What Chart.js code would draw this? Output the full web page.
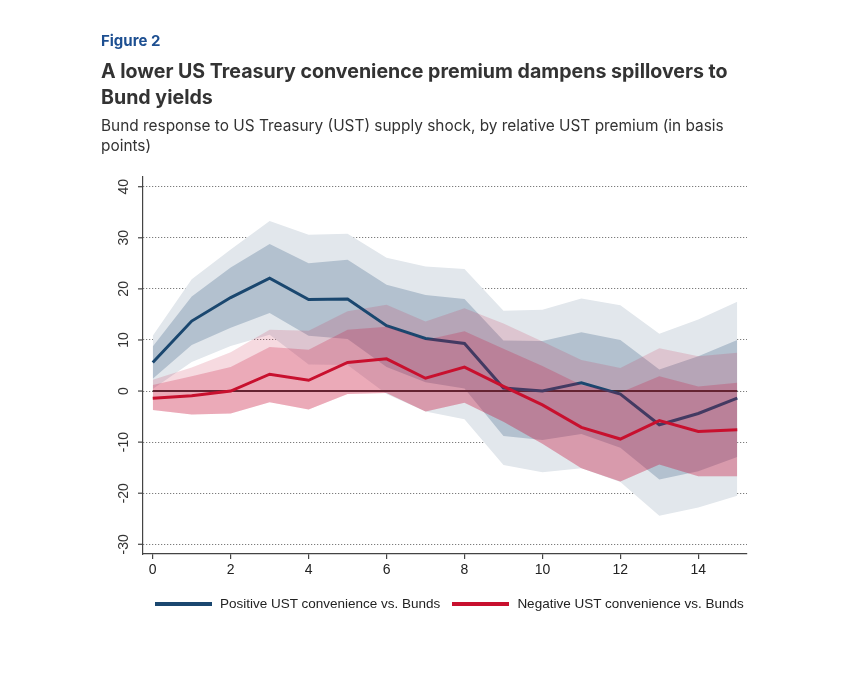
<!DOCTYPE html>
<html>
<head>
<meta charset="utf-8">
<script src="https://cdn.jsdelivr.net/npm/chart.js@4.4.1/dist/chart.umd.min.js"></script>
<style>
  html, body { margin: 0; padding: 0; background: #fff; }
  #wrap { position: relative; width: 859px; height: 691px; overflow: hidden; }
  #chartBox { position: absolute; left: 0; top: 0; width: 859px; height: 691px; }
  .fig { position: absolute; left: 101px; top: 31px; font: 700 15px/20px Inter, sans-serif; color: #1d4f91; }
  .title { position: absolute; left: 101px; top: 58px; font: 700 19.6px/26px Inter, sans-serif; color: #333; white-space: nowrap; }
  .sub { position: absolute; left: 101px; top: 116px; font: 400 15.4px/20px Inter, sans-serif; color: #333; white-space: nowrap; }
  .legend { position: absolute; left: 155px; top: 596px; display: flex; align-items: center;
            font: 13.5px "Liberation Sans", Arial, sans-serif; color: #222; white-space: nowrap; }
  .legend .sw { width: 57px; height: 4px; margin-right: 8px; }
  .legend .item { display: flex; align-items: center; margin-right: 12px; }
</style>
</head>
<body>
<div id="wrap">
  <div id="chartBox"><canvas id="chart"></canvas></div>
  <div class="fig">Figure 2</div>
  <div class="title">A lower US Treasury convenience premium dampens spillovers to<br>Bund yields</div>
  <div class="sub">Bund response to US Treasury (UST) supply shock, by relative UST premium (in basis<br>points)</div>
  <div class="legend">
    <div class="item"><div class="sw" style="background:#1a476f"></div>Positive UST convenience vs. Bunds</div>
    <div class="item"><div class="sw" style="background:#c8102e"></div>Negative UST convenience vs. Bunds</div>
  </div>
</div>
<script>
const horizons = [0, 1, 2, 3, 4, 5, 6, 7, 8, 9, 10, 11, 12, 13, 14, 15]
const yTicks = [-30, -20, -10, 0, 10, 20, 30, 40]

// positive UST convenience (blue)
const posLine    = [5.6, 13.7, 18.3, 22.1, 17.9, 18.0, 12.8, 10.3, 9.3, 0.6, 0.0, 1.6, -0.6, -6.6, -4.4, -1.4]
const posInnerHi = [8.7, 18.5, 24.2, 28.8, 25.0, 25.7, 20.8, 18.8, 18.0, 9.9, 9.8, 11.5, 10.0, 4.2, 6.8, 10.0]
const posInnerLo = [2.4, 9.0, 12.4, 15.3, 10.8, 10.2, 4.7, 1.7, 0.5, -8.8, -9.6, -8.4, -11.1, -17.3, -15.7, -12.9]
const posOuterHi = [10.8, 21.9, 27.7, 33.3, 30.6, 30.8, 26.1, 24.4, 23.9, 15.7, 15.9, 18.1, 16.8, 11.2, 14.0, 17.5]
const posOuterLo = [0.4, 5.7, 8.8, 11.0, 5.2, 5.1, -0.6, -4.0, -5.5, -14.5, -15.9, -15.1, -17.8, -24.4, -22.8, -20.5]

// negative UST convenience (red)
const negLine    = [-1.4, -0.9, 0.0, 3.3, 2.1, 5.6, 6.3, 2.5, 4.7, 0.9, -2.7, -7.1, -9.4, -5.8, -7.9, -7.6]
const negInnerHi = [1.2, 2.9, 4.7, 8.6, 8.1, 12.0, 12.6, 10.0, 11.7, 8.3, 4.9, 1.2, -0.3, 2.9, 0.9, 1.6]
const negOuterHi = [2.2, 4.6, 7.6, 12.0, 11.8, 15.6, 16.9, 13.6, 16.2, 13.2, 9.7, 6.1, 4.5, 8.4, 6.8, 7.5]
const negLower   = [-3.7, -4.6, -4.4, -2.2, -3.6, -0.6, -0.4, -4.0, -2.3, -6.0, -10.3, -15.1, -17.7, -14.4, -16.7, -16.7]

const zeroRef = [0, 0, 0, 0, 0, 0, 0, 0, 0, 0, 0, 0, 0, 0, 0, 0]

function pts(arr) {
  return arr.map((v, i) => ({ x: horizons[i], y: v }))
}

function edge(arr, order) {
  return { data: pts(arr), borderWidth: 0, pointRadius: 0, fill: false, order: order }
}

function band(arr, target, color, order) {
  return { data: pts(arr), borderWidth: 0, pointRadius: 0, fill: { target: target }, backgroundColor: color, order: order }
}

function line(arr, color, width, order) {
  return { data: pts(arr), borderColor: color, borderWidth: width, pointRadius: 0, fill: false, tension: 0, order: order }
}

// y tick labels are rotated in the original, so they are drawn here
const yAxisLabels = {
  id: 'yAxisLabels',
  afterDraw(chart) {
    const { ctx, chartArea } = chart
    const y = chart.scales.y
    ctx.save()
    ctx.strokeStyle = '#444'
    ctx.lineWidth = 1.2
    ctx.fillStyle = '#333'
    ctx.font = '14px "Liberation Sans", Arial, sans-serif'
    ctx.textAlign = 'center'
    ctx.textBaseline = 'middle'
    yTicks.forEach(v => {
      const py = y.getPixelForValue(v)
      ctx.beginPath()
      ctx.moveTo(chartArea.left - 5, py)
      ctx.lineTo(chartArea.left, py)
      ctx.stroke()
      ctx.save()
      ctx.translate(124, py)
      ctx.rotate(-Math.PI / 2)
      ctx.fillText(String(v), 0, 0)
      ctx.restore()
    })
    ctx.restore()
  }
}

new Chart(document.getElementById('chart'), {
  type: 'line',
  data: {
    datasets: [
      edge(posOuterLo, 100),                              // 0
      band(posOuterHi, 0, '#e2e7ec', 90),                 // 1
      edge(posInnerLo, 100),                              // 2
      band(posInnerHi, 2, '#b3c1cf', 80),                 // 3
      line(zeroRef, '#2e2e2e', 2, 70),                    // 4
      edge(negLower, 100),                                // 5
      band(negOuterHi, 5, 'rgba(200,16,60,0.155)', 60),   // 6
      line(posLine, '#1a476f', 3, 50),                    // 7
      band(negInnerHi, 5, 'rgba(200,16,60,0.24)', 40),    // 8
      line(negLine, '#c8102e', 3, 30)                     // 9
    ]
  },
  options: {
    responsive: true,
    maintainAspectRatio: false,
    animation: false,
    layout: { padding: { left: 143, right: 112, top: 177, bottom: 107 } },
    plugins: {
      legend: { display: false },
      tooltip: { enabled: false }
    },
    scales: {
      x: {
        type: 'linear',
        min: -0.25,
        max: 15.25,
        afterFit: s => { s.height = 30 },
        ticks: {
          stepSize: 2,
          includeBounds: false,
          padding: 3,
          color: '#222',
          font: { family: '"Liberation Sans", Arial, sans-serif', size: 14 }
        },
        grid: { drawOnChartArea: false, drawTicks: true, tickLength: 5, color: '#444', lineWidth: 1.2 },
        border: { color: '#444', width: 1.2 }
      },
      y: {
        min: -31.9,
        max: 41.9,
        z: 1,
        afterFit: s => { s.width = 0 },
        ticks: { display: false, stepSize: 10, includeBounds: false },
        grid: { drawTicks: false, color: '#5e5e5e', lineWidth: 1 },
        border: { color: '#444', width: 1.2, dash: [1, 2] }
      }
    }
  },
  plugins: [yAxisLabels]
})
</script>
</body>
</html>
